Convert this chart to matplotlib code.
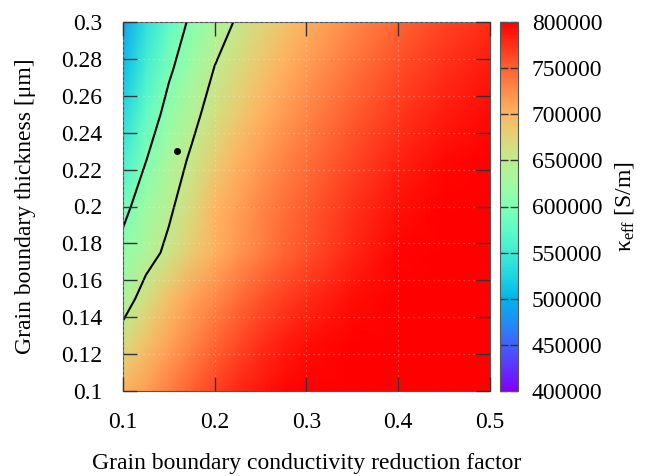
import numpy as np
import matplotlib
matplotlib.use('Agg')
import matplotlib.pyplot as plt

plt.rcParams['font.family'] = ['Liberation Serif', 'DejaVu Serif']
plt.rcParams['mathtext.fontset'] = 'custom'
plt.rcParams['mathtext.rm'] = 'Liberation Serif'
plt.rcParams['mathtext.it'] = 'Liberation Serif:italic'

# ---- data ----
reduction_factor = [0.1, 0.125, 0.15, 0.175, 0.2, 0.225, 0.25, 0.275, 0.3, 0.35, 0.4, 0.45, 0.5]
thickness = [0.1, 0.125, 0.15, 0.175, 0.2, 0.225, 0.25, 0.275, 0.3]

kappa_t0100 = [700000, 715000, 733000, 750000, 767000, 780000, 789000, 796000, 801000, 809000, 815000, 820000, 824000]
kappa_t0125 = [668700, 692000, 712000, 730000, 747000, 762000, 775000, 785000, 793000, 805000, 813000, 819000, 823000]
kappa_t0150 = [633000, 665000, 692000, 712000, 728000, 743000, 757000, 768000, 777000, 793000, 805000, 813000, 819000]
kappa_t0175 = [614000, 636000, 658000, 682000, 702000, 719000, 734000, 747000, 759000, 780000, 797000, 808000, 815000]
kappa_t0200 = [588000, 623000, 644000, 670000, 697000, 714000, 729000, 742000, 753000, 774000, 791000, 803000, 811000]
kappa_t0225 = [555000, 599300, 633000, 655000, 681000, 700000, 716000, 730000, 742000, 764000, 782000, 795000, 804000]
kappa_t0250 = [531000, 577000, 613000, 641000, 664000, 684000, 701000, 716000, 729000, 752000, 771000, 785000, 795000]
kappa_t0275 = [508000, 556000, 594000, 623000, 651000, 669000, 687000, 703000, 716000, 740000, 760000, 775000, 786000]
kappa_t0300 = [488000, 537000, 576000, 607000, 633000, 654000, 673000, 689000, 703000, 727000, 748000, 765000, 778000]

contour_levels = [600000, 650000]
point_x = [0.159]
point_y = [0.23]

x_ticks = [0.1, 0.2, 0.3, 0.4, 0.5]
x_tick_labels = ['0.1', '0.2', '0.3', '0.4', '0.5']
y_ticks = [0.1, 0.12, 0.14, 0.16, 0.18, 0.2, 0.22, 0.24, 0.26, 0.28, 0.3]
y_tick_labels = ['0.1', '0.12', '0.14', '0.16', '0.18', '0.2', '0.22', '0.24', '0.26', '0.28', '0.3']
cb_ticks = [400000, 450000, 500000, 550000, 600000, 650000, 700000, 750000, 800000]
cb_tick_labels = ['400000', '450000', '500000', '550000', '600000', '650000', '700000', '750000', '800000']

Z = np.array([kappa_t0100, kappa_t0125, kappa_t0150, kappa_t0175, kappa_t0200,
              kappa_t0225, kappa_t0250, kappa_t0275, kappa_t0300], dtype=float)
X, Y = np.meshgrid(reduction_factor, thickness)

fs = 17
fig = plt.figure(figsize=(6.47, 4.76), dpi=100)
ax = fig.add_axes([123/647, 1 - 391/476, 367/647, 369/476])
cax = fig.add_axes([500/647, 1 - 391/476, 18/647, 369/476])

mesh = ax.pcolormesh(X, Y, Z, cmap='rainbow', vmin=400000, vmax=800000, shading='gouraud')
ax.contour(X, Y, Z, levels=contour_levels, colors='k', linewidths=1.5)
ax.plot(point_x, point_y, 'o', color='k', markersize=4)

ax.set_xlim(0.1, 0.5)
ax.set_ylim(0.1, 0.3)
ax.set_xticks(x_ticks)
ax.set_xticklabels(x_tick_labels)
ax.set_yticks(y_ticks)
ax.set_yticklabels(y_tick_labels)
ax.tick_params(direction='in', length=10, width=1, top=True, right=True,
               labelsize=fs, pad=15, color='#333333')
ax.set_axisbelow(False)
ax.grid(True, color='white', alpha=0.35, linestyle=(0, (1, 3)), linewidth=0.9)
for s in ax.spines.values():
    s.set_linewidth(0.8)
    s.set_color('#555555')

ax.set_xlabel('Grain boundary conductivity reduction factor', fontsize=fs, va='center')
ax.xaxis.set_label_coords(0.5, (391 - 464) / 369)
ax.set_ylabel('Grain boundary thickness [μm]', fontsize=fs, va='center')
ax.yaxis.set_label_coords((25 - 123) / 367, 0.5)

cb = fig.colorbar(mesh, cax=cax, ticks=cb_ticks)
cb.ax.set_yticklabels(cb_tick_labels)
cb.ax.tick_params(direction='in', length=6, width=1, left=True, right=True,
                  labelsize=fs, pad=10, color='#333333')
cb.outline.set_linewidth(0.8)
cb.outline.set_edgecolor('#555555')
cb.set_label('κ$_{\\mathrm{eff}}$ [S/m]', fontsize=fs, rotation=90, va='center')
cb.ax.yaxis.set_label_coords((625 - 500) / 18, 0.5)

fig.savefig('out.png', dpi=100)
